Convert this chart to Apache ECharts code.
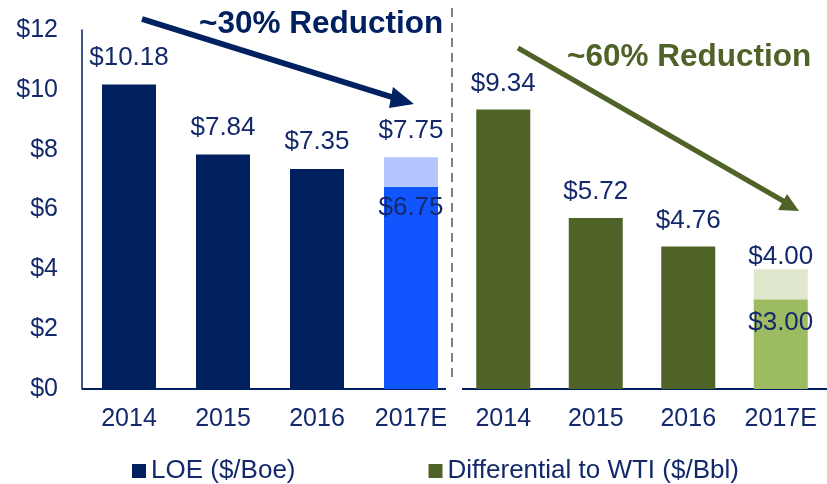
<!DOCTYPE html>
<html>
<head>
<meta charset="utf-8">
<script src="https://cdn.jsdelivr.net/npm/echarts@6/dist/echarts.min.js"></script>
<style>
  html, body { margin: 0; padding: 0; background: #fff; }
  #chart { width: 827px; height: 484px; }
</style>
</head>
<body>
<div id="chart"></div>
<script>
// data
var years = ['2014', '2015', '2016', '2017E'];
var loe = [10.18, 7.84, 7.35, 6.75];
var loeTarget = [null, null, null, 7.75];
var diff = [9.34, 5.72, 4.76, 3.00];
var diffTarget = [null, null, null, 4.00];
var yTicks = [0, 2, 4, 6, 8, 10, 12];

var navy = '#002060';
var txt = '#13296b';
var olive = '#4f6228';
var font = 'Liberation Sans';

function money(v) { return '$' + v.toFixed(2); }

// base bars, last one (estimate) gets its own colour and inner label
function baseData(vals, estColor, dist) {
  return vals.map(function (v, i) {
    if (i < vals.length - 1) return v;
    return { value: v, itemStyle: { color: estColor }, label: { position: 'insideTop', distance: dist } };
  });
}
// stacked part up to the target, labelled with the target value
function topData(targets, base) {
  return targets.map(function (t, i) {
    if (t == null) return null;
    return { value: +(t - base[i]).toFixed(2), label: { show: true, formatter: money(t) } };
  });
}

var labelStyle = { show: true, position: 'top', fontSize: 26, color: txt, fontFamily: font };

var myChart = echarts.init(document.getElementById('chart'));

var option = {
  animation: false,
  textStyle: { fontFamily: font },
  title: [
    { text: '~30% Reduction', left: 194, top: 3,
      textStyle: { fontSize: 31.5, fontWeight: 'bold', color: navy, fontFamily: font } },
    { text: '~60% Reduction', left: 562, top: 36,
      textStyle: { fontSize: 31.5, fontWeight: 'bold', color: olive, fontFamily: font } }
  ],
  legend: {
    left: 127, top: 453,
    itemWidth: 14, itemHeight: 14, itemGap: 133,
    icon: 'rect',
    data: ['LOE ($/Boe)', 'Differential to WTI ($/Bbl)'],
    textStyle: { fontSize: 26, color: txt, fontFamily: font }
  },
  grid: [
    { left: 82, top: 30, width: 376, height: 359 },
    { left: 457, top: 30, width: 376, height: 359 }
  ],
  xAxis: [0, 1].map(function (i) {
    return {
      type: 'category', gridIndex: i, data: years,
      axisLine: { show: false }, axisTick: { show: false },
      axisLabel: { fontSize: 25, color: txt, margin: 18, fontFamily: font, interval: 0 }
    };
  }),
  yAxis: [
    { type: 'value', gridIndex: 0, min: yTicks[0], max: yTicks[yTicks.length - 1], interval: 2,
      axisLine: { show: true, lineStyle: { color: navy, width: 1.5 } },
      axisTick: { show: false }, splitLine: { show: false },
      axisLabel: { fontSize: 25, color: txt, margin: 24, fontFamily: font,
        formatter: function (v) { return '$' + v; } } },
    { type: 'value', gridIndex: 1, min: 0, max: 12, interval: 2, show: false, splitLine: { show: false } }
  ],
  series: [
    { name: 'LOE ($/Boe)', type: 'bar', xAxisIndex: 0, yAxisIndex: 0, stack: 'loe', barWidth: 54,
      itemStyle: { color: navy },
      label: Object.assign({}, labelStyle, { distance: 14, formatter: function (p) { return money(p.value); } }),
      data: baseData(loe, '#1155ff', 8) },
    { name: 'LOE target', type: 'bar', xAxisIndex: 0, yAxisIndex: 0, stack: 'loe', barWidth: 54,
      itemStyle: { color: '#b3c6fd' },
      label: Object.assign({}, labelStyle, { distance: 13 }),
      data: topData(loeTarget, loe) },
    { name: 'Differential to WTI ($/Bbl)', type: 'bar', xAxisIndex: 1, yAxisIndex: 1, stack: 'diff', barWidth: 54,
      itemStyle: { color: olive },
      label: Object.assign({}, labelStyle, { distance: 13, formatter: function (p) { return money(p.value); } }),
      data: baseData(diff, '#9dbb61', 11) },
    { name: 'Diff target', type: 'bar', xAxisIndex: 1, yAxisIndex: 1, stack: 'diff', barWidth: 54,
      itemStyle: { color: '#dfe7cd' },
      label: Object.assign({}, labelStyle, { distance: 0 }),
      data: topData(diffTarget, diff) }
  ],
  graphic: [
    // panel baselines
    { type: 'line', shape: { x1: 82, y1: 389, x2: 446, y2: 389 }, style: { stroke: navy, lineWidth: 2 } },
    { type: 'line', shape: { x1: 462, y1: 389, x2: 827, y2: 389 }, style: { stroke: navy, lineWidth: 2 } },
    // divider
    { type: 'line', shape: { x1: 452, y1: 8, x2: 452, y2: 380 },
      style: { stroke: '#808080', lineWidth: 2, lineDash: [9, 6] } },
    // arrows
    { type: 'line', shape: { x1: 142, y1: 19, x2: 398, y2: 99 }, style: { stroke: navy, lineWidth: 6 } },
    { type: 'polygon', shape: { points: [[393, 87], [414, 104], [389, 108]] }, style: { fill: navy } },
    { type: 'line', shape: { x1: 518, y1: 48, x2: 785, y2: 202 }, style: { stroke: olive, lineWidth: 5 } },
    { type: 'polygon', shape: { points: [[787, 194], [799, 211], [778, 210]] }, style: { fill: olive } }
  ]
};

myChart.setOption(option);
</script>
</body>
</html>
